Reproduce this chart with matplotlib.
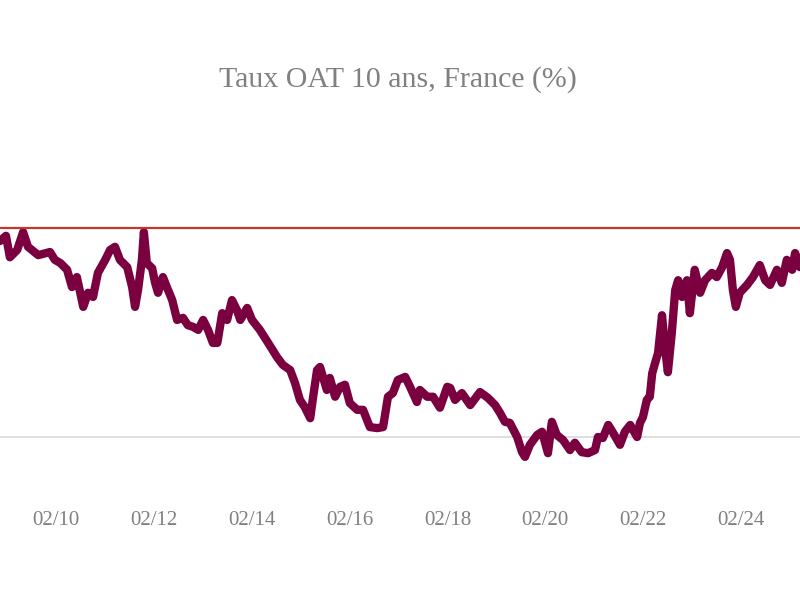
import matplotlib
matplotlib.use('Agg')
import matplotlib.pyplot as plt
import matplotlib.dates as mdates
from datetime import datetime, timedelta

# decimal years and 10y OAT yield (%)
years = [2008.94, 2009.06, 2009.14, 2009.29, 2009.41, 2009.51, 2009.72, 2009.96,
         2010.06, 2010.17, 2010.31, 2010.41, 2010.51, 2010.64, 2010.74, 2010.84,
         2010.94, 2011.09, 2011.19, 2011.29, 2011.39, 2011.54, 2011.64, 2011.70,
         2011.76, 2011.84, 2011.88, 2011.94, 2012.05, 2012.11, 2012.17, 2012.27,
         2012.35, 2012.46, 2012.56, 2012.68, 2012.78, 2012.88, 2012.99, 2013.09,
         2013.19, 2013.29, 2013.38, 2013.48, 2013.58, 2013.68, 2013.78, 2013.85,
         2013.99, 2014.09, 2014.25, 2014.42, 2014.60, 2014.72, 2014.87, 2014.97,
         2015.07, 2015.17, 2015.28, 2015.34, 2015.42, 2015.48, 2015.54, 2015.62,
         2015.68, 2015.79, 2015.89, 2015.99, 2016.09, 2016.24, 2016.36, 2016.50,
         2016.65, 2016.77, 2016.87, 2016.97, 2017.07, 2017.22, 2017.32, 2017.46,
         2017.52, 2017.67, 2017.79, 2017.93, 2018.08, 2018.14, 2018.24, 2018.38,
         2018.55, 2018.75, 2018.91, 2019.06, 2019.16, 2019.26, 2019.36, 2019.51,
         2019.61, 2019.67, 2019.77, 2019.92, 2020.02, 2020.14, 2020.22, 2020.32,
         2020.45, 2020.59, 2020.69, 2020.83, 2020.96, 2021.10, 2021.16, 2021.26,
         2021.37, 2021.47, 2021.61, 2021.71, 2021.82, 2021.96, 2022.02, 2022.08,
         2022.16, 2022.22, 2022.27, 2022.33, 2022.39, 2022.47, 2022.53, 2022.59,
         2022.67, 2022.74, 2022.80, 2022.88, 2022.98, 2023.04, 2023.14, 2023.25,
         2023.35, 2023.49, 2023.59, 2023.70, 2023.80, 2023.86, 2023.92, 2023.98,
         2024.06, 2024.21, 2024.33, 2024.47, 2024.58, 2024.68, 2024.82, 2024.92,
         2025.02, 2025.13, 2025.19, 2025.29]
taux = [3.75, 3.85, 3.44, 3.58, 3.92, 3.64, 3.48, 3.54,
        3.39, 3.33, 3.20, 2.87, 3.06, 2.49, 2.76, 2.68,
        3.14, 3.39, 3.58, 3.64, 3.39, 3.25, 2.87, 2.49,
        2.81, 3.39, 3.92, 3.33, 3.23, 2.95, 2.76, 3.06,
        2.87, 2.62, 2.24, 2.28, 2.14, 2.11, 2.05, 2.24,
        2.05, 1.80, 1.80, 2.37, 2.24, 2.62, 2.43, 2.24,
        2.47, 2.24, 2.05, 1.80, 1.53, 1.38, 1.28, 1.03,
        0.71, 0.57, 0.36, 0.77, 1.28, 1.34, 1.15, 0.90,
        1.13, 0.77, 0.96, 1.00, 0.65, 0.52, 0.52, 0.19,
        0.17, 0.19, 0.77, 0.84, 1.09, 1.15, 0.96, 0.67,
        0.90, 0.77, 0.77, 0.56, 0.96, 0.94, 0.71, 0.84,
        0.61, 0.86, 0.75, 0.61, 0.46, 0.29, 0.27, 0.00,
        -0.29, -0.38, -0.15, 0.04, 0.10, -0.31, 0.29, 0.04,
        -0.06, -0.25, -0.11, -0.29, -0.31, -0.25, 0.00, -0.02,
        0.23, 0.08, -0.15, 0.10, 0.23, 0.00, 0.27, 0.38,
        0.71, 0.77, 1.22, 1.42, 1.61, 2.33, 1.72, 1.24,
        1.99, 2.81, 3.00, 2.68, 3.00, 2.37, 3.20, 2.76,
        3.00, 3.14, 3.06, 3.25, 3.52, 3.39, 2.81, 2.49,
        2.76, 2.91, 3.06, 3.29, 3.00, 2.91, 3.20, 2.95,
        3.39, 3.20, 3.52, 3.25]

ref_haut = 4.0
ref_zero = 0.0


def to_date(y):
    year = int(y)
    return datetime(year, 1, 1) + timedelta(days=(y - year) * 365.25)


dates = [to_date(y) for y in years]

fig = plt.figure(figsize=(8, 6), dpi=100)
ax = fig.add_axes([0, 0.1846, 1, 0.6096])

ax.axhline(ref_zero, color='#d9d9d9', linewidth=1.2, zorder=1)
ax.axhline(ref_haut, color='#c0392b', linewidth=1.6, zorder=3)
ax.plot(dates, taux, color='#7b003f', linewidth=6, solid_joinstyle='round',
        solid_capstyle='round', zorder=2)

ax.set_xlim(to_date(2008.94), to_date(2025.29))
ax.set_ylim(-1, 6)
ax.set_yticks([])
ax.xaxis.set_major_locator(mdates.YearLocator(base=2, month=2, day=1))
ax.xaxis.set_major_formatter(mdates.DateFormatter('%m/%y'))
ax.tick_params(axis='x', length=0, pad=16, labelsize=15, labelcolor='#808080')
for lbl in ax.get_xticklabels():
    lbl.set_fontfamily('Liberation Serif')
for s in ax.spines.values():
    s.set_visible(False)

fig.text(0.497, 0.868, 'Taux OAT 10 ans, France (%)', ha='center', va='center',
         fontsize=21.5, color='#808080', family='Liberation Serif')

fig.savefig('out.png', dpi=100)
